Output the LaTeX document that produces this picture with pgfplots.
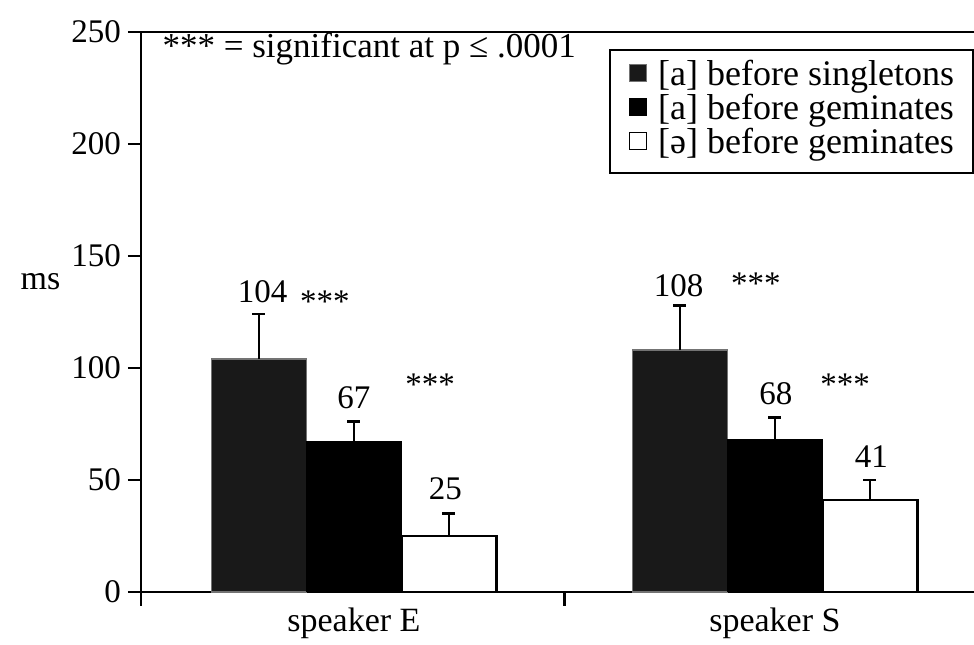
\documentclass[border=0pt]{standalone}
\usepackage{fontspec}
\setmainfont{Liberation Serif}
\usepackage{pgfplots}
\pgfplotsset{compat=1.18}
\definecolor{darkbar}{gray}{0.10}
\begin{document}
\begin{tikzpicture}
\begin{axis}[
  scale only axis, width=844pt, height=560pt,
  xmin=-0.506, xmax=1.499, ymin=0, ymax=250,
  clip=false,
  axis line style={line width=2.6pt},
  ybar, bar width=95pt, bar shift auto=false,
  ytick={0,50,...,250},
  ytick align=outside, ytick pos=left,
  major tick length=13pt,
  tick style={black},
  ytick style={line width=2.4pt},
  xtick={0,1}, xticklabels={speaker E, speaker S},
  major x tick style={draw=none},
  minor xtick={-0.506,0.5},
  minor tick style={line width=2.4pt, black},
  every minor tick/.append style={line width=2.4pt, black},
  minor tick length=14pt,
  xtick pos=bottom,
  xtick align=outside,
  yticklabel style={font=\fontsize{33}{38}\selectfont, inner sep=0pt, xshift=-7pt},
  xticklabel style={font=\fontsize{34}{38}\selectfont, anchor=base, inner sep=0pt, yshift=-27pt},
  /pgf/number format/assume math mode=true,
  legend style={at={(rel axis cs:0.987,0.97)}, anchor=north east,
    draw=black, line width=2pt, font=\fontsize{36}{38}\selectfont,
    nodes={inner sep=0pt, text depth=8pt, text height=25pt},
    row sep=1pt, inner xsep=19pt, inner ysep=11pt,
    /tikz/every odd column/.append style={column sep=11pt}},
  legend cell align=left,
  legend image code/.code={\draw[#1, line width=1.2pt] (0pt,-4pt) rectangle (17pt,13pt);},
  error bars/y dir=plus, error bars/y explicit,
  error bars/error bar style={line width=2.6pt, black},
  error bars/error mark options={line width=2.6pt, mark size=6.5pt, rotate=90},
]
\addplot+[bar shift=-0.2257, fill=darkbar, draw=black!55, line width=1.5pt]
  coordinates {(0,104) +- (0,20) (1,108) +- (0,20)};
\addlegendentry{{[a] before singletons}}
\addplot+[bar shift=0, fill=black, draw=black, line width=1pt]
  coordinates {(0,67) +- (0,9) (1,68) +- (0,10)};
\addlegendentry{{[a] before geminates}}
\addplot+[bar shift=0.2257, fill=white, draw=black, line width=2.4pt]
  coordinates {(0,25) +- (0,10) (1,41) +- (0,9)};
\addlegendentry{{[ə] before geminates}}

\tikzset{lbl/.style={anchor=base, font=\fontsize{33}{38}\selectfont, inner sep=0pt}}
\node[lbl] at (axis cs:-0.217,129) {104};
\node[lbl] at (axis cs:-0.069,124.6) {***};
\node[lbl] at (axis cs:0.0,82.1) {67};
\node[lbl] at (axis cs:0.181,87.9) {***};
\node[lbl] at (axis cs:0.217,41.1) {25};
\node[lbl] at (axis cs:0.771,131.7) {108};
\node[lbl] at (axis cs:0.955,132.6) {***};
\node[lbl] at (axis cs:1.002,83.5) {68};
\node[lbl] at (axis cs:1.167,87.5) {***};
\node[lbl] at (axis cs:1.229,55.4) {41};
\node[lbl, anchor=base west, font=\fontsize{35}{38}\selectfont] at (axis cs:-0.455,238.8) {*** = significant at p ≤ .0001};
\node[lbl, anchor=center, font=\fontsize{34}{38}\selectfont] at (rel axis cs:-0.119,0.554) {ms};
\coordinate (bbsw) at (rel axis cs:-0.167,-0.0946);
\coordinate (bbne) at (rel axis cs:0.987,1.057);
\end{axis}
\pgfresetboundingbox
\useasboundingbox (bbsw) rectangle (bbne);
\end{tikzpicture}
\end{document}
